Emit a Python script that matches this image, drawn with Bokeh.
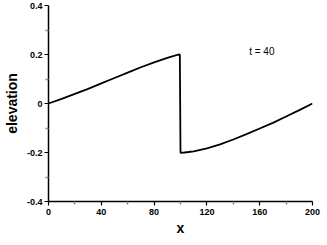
from bokeh.plotting import figure
from bokeh.models import FixedTicker, Range1d
from bokeh.core.properties import value
from bokeh.embed import file_html
from bokeh.resources import INLINE

# data
elev_x = [0, 10, 20, 30, 40, 50, 60, 70, 80, 90, 95, 98, 99.5,
          100, 103, 106, 110, 120, 130, 140, 150, 160, 170, 180, 190, 200]
elev_y = [0, 0.019, 0.039, 0.060, 0.082, 0.104, 0.126, 0.148, 0.168, 0.186, 0.194, 0.199, 0.200,
          -0.201, -0.200, -0.198, -0.195, -0.183, -0.167, -0.147, -0.125, -0.102, -0.079, -0.053, -0.027, 0]

x_ticks = [0, 40, 80, 120, 160, 200]
x_minor = [20, 60, 100, 140, 180]
y_ticks = [-0.4, -0.2, 0, 0.2, 0.4]
y_minor = [-0.3, -0.1, 0.1, 0.3]
y_tick_labels = ["-0.4", "-0.2", "0", "0.2", "0.4"]

label_x = [152]
label_y = [0.212]
label_text = ["t = 40"]

FONT = "Liberation Sans"

p = figure(frame_width=264, frame_height=196, output_backend="svg", toolbar_location=None,
           x_range=Range1d(0, 200), y_range=Range1d(-0.4, 0.4),
           x_axis_label="x", y_axis_label="elevation")
p.min_border_top = 5
p.min_border_right = 9
p.min_border_left = 0
p.min_border_bottom = 0
p.outline_line_color = None
p.xgrid.visible = False
p.ygrid.visible = False
p.background_fill_color = "white"

p.line(elev_x, elev_y, line_color="black", line_width=1.8)

p.text(x=label_x, y=label_y, text=label_text, text_font=value(FONT),
       text_font_size="10px", text_align="left", text_baseline="middle", text_color="black")

for ax in (p.xaxis[0], p.yaxis[0]):
    ax.axis_line_color = "black"
    ax.axis_line_width = 1.5
    ax.major_tick_line_color = "black"
    ax.major_tick_line_width = 1.2
    ax.major_tick_in = 0
    ax.major_tick_out = 4
    ax.minor_tick_line_color = "#888888"
    ax.minor_tick_line_width = 1.5
    ax.minor_tick_in = 0
    ax.minor_tick_out = 3
    ax.major_label_text_font = FONT
    ax.major_label_text_font_style = "bold"
    ax.major_label_text_font_size = "9px"
    ax.major_label_text_color = "black"
    ax.axis_label_text_font = FONT
    ax.axis_label_text_font_style = "bold"
    ax.axis_label_text_font_size = "14px"
    ax.axis_label_text_color = "black"

p.xaxis[0].ticker = FixedTicker(ticks=x_ticks, minor_ticks=x_minor)
p.yaxis[0].ticker = FixedTicker(ticks=y_ticks, minor_ticks=y_minor)
p.yaxis[0].major_label_overrides = {t: s for t, s in zip(y_ticks, y_tick_labels)}
p.xaxis[0].major_label_standoff = 3
p.yaxis[0].major_label_standoff = 2
p.xaxis[0].axis_label_standoff = 2
p.yaxis[0].axis_label_standoff = 4

open("out.html", "w").write(file_html(p, INLINE))
